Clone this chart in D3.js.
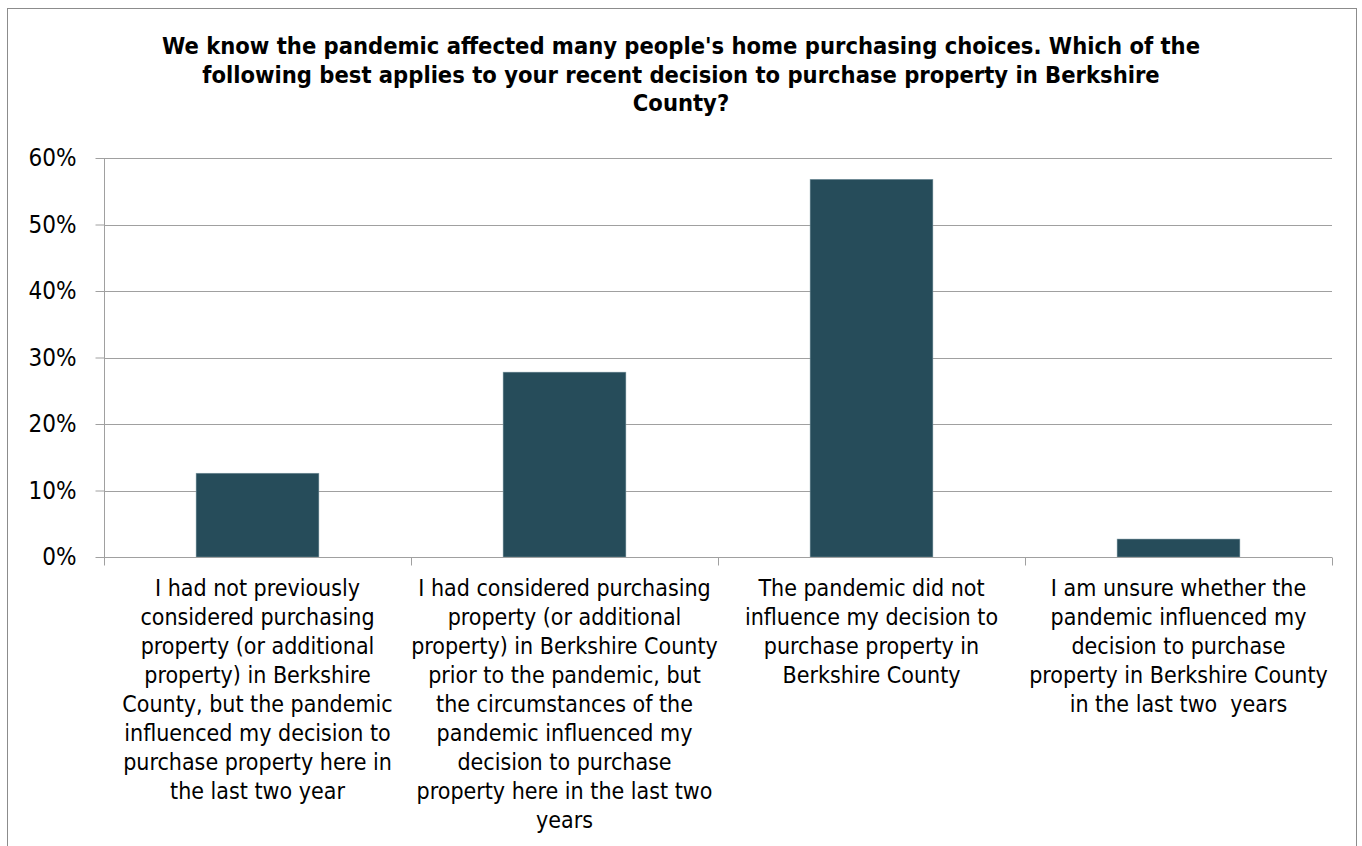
<!DOCTYPE html>
<html>
<head>
<meta charset="utf-8">
<script src="https://cdn.jsdelivr.net/npm/d3@7"></script>
<style>
  html, body { margin: 0; padding: 0; background: #fff; }
  svg { display: block; }
  text { font-family: "DejaVu Sans Condensed", "DejaVu Sans", sans-serif; fill: #000; }
</style>
</head>
<body>
<svg id="chart" width="1362" height="846"></svg>
<script>
// Survey responses (share of respondents, %)
const categories = [
  "I had not previously considered purchasing property (or additional property) in Berkshire County, but the pandemic influenced my decision to purchase property here in the last two year",
  "I had considered purchasing property (or additional property) in Berkshire County prior to the pandemic, but the circumstances of the pandemic influenced my decision to purchase property here in the last two years",
  "The pandemic did not influence my decision to purchase property in Berkshire County",
  "I am unsure whether the pandemic influenced my decision to purchase property in Berkshire County in the last two  years"
];
const categoryLines = [
  ["I had not previously", "considered purchasing", "property (or additional", "property) in Berkshire", "County, but the pandemic", "influenced my decision to", "purchase property here in", "the last two year"],
  ["I had considered purchasing", "property (or additional", "property) in Berkshire County", "prior to the pandemic, but", "the circumstances of the", "pandemic influenced my", "decision to purchase", "property here in the last two", "years"],
  ["The pandemic did not", "influence my decision to", "purchase property in", "Berkshire County"],
  ["I am unsure whether the", "pandemic influenced my", "decision to purchase", "property in Berkshire County", "in the last two\u00a0 years"]
];
const values = [12.6, 27.8, 56.8, 2.7];
const yTicks = [0, 10, 20, 30, 40, 50, 60];
const titleLines = [
  "We know the pandemic affected many people's home purchasing choices. Which of the",
  "following best applies to your recent decision to purchase property in Berkshire",
  "County?"
];

const svg = d3.select("#chart");
const plot = { left: 104, right: 1332, top: 158, bottom: 557 };

// chart frame
svg.append("rect")
  .attr("x", 7.5).attr("y", 8.5)
  .attr("width", 1349).attr("height", 860)
  .attr("fill", "#fff").attr("stroke", "#8c8c8c").attr("stroke-width", 1);

// title
const title = svg.append("text")
  .attr("text-anchor", "middle")
  .style("font-weight", "bold")
  .style("font-size", "23.5px");
title.selectAll("tspan").data(titleLines).join("tspan")
  .attr("x", 681)
  .attr("y", (d, i) => 54 + i * 28.5)
  .text(d => d);

const idx = d3.range(categories.length);
const x = d3.scaleBand().domain(idx).range([plot.left, plot.right])
  .paddingInner(0.6).paddingOuter(0.3);
const xEdge = d3.scaleLinear().domain([0, categories.length]).range([plot.left, plot.right]);
const y = d3.scaleLinear().domain([0, 60]).range([plot.bottom, plot.top]);

// horizontal gridlines
svg.append("g")
  .selectAll("line").data(yTicks.filter(t => t > 0)).join("line")
  .attr("x1", plot.left).attr("x2", plot.right)
  .attr("y1", d => Math.round(y(d)) + 0.5).attr("y2", d => Math.round(y(d)) + 0.5)
  .attr("stroke", "#a0a0a0").attr("stroke-width", 1);

// bars
svg.append("g")
  .selectAll("rect").data(values).join("rect")
  .attr("x", (d, i) => x(i))
  .attr("width", x.bandwidth())
  .attr("y", d => y(d))
  .attr("height", d => y(0) - y(d))
  .attr("fill", "#264c5a")
  .attr("stroke", "#7f9aa3").attr("stroke-width", 0.5);

// y axis
const yAxis = svg.append("g")
  .attr("transform", `translate(${plot.left + 0.5},0)`)
  .call(d3.axisLeft(y).tickValues(yTicks).tickSize(9).tickPadding(19)
    .tickFormat(d => d + "%"));
yAxis.select(".domain").attr("stroke", "#a0a0a0")
  .attr("d", `M0,${plot.top}V${plot.bottom + 8}`);
yAxis.selectAll(".tick line").attr("stroke", "#a0a0a0");
yAxis.selectAll(".tick text")
  .style("font-size", "24px")
  .style("font-family", "'DejaVu Sans Condensed', 'DejaVu Sans', sans-serif")
  .attr("fill", "#000");

// x axis with ticks between categories
const xAxis = svg.append("g")
  .attr("transform", `translate(0,${plot.bottom + 0.5})`)
  .call(d3.axisBottom(xEdge).tickValues(d3.range(categories.length + 1))
    .tickSize(8).tickFormat(""));
xAxis.select(".domain").attr("stroke", "#a0a0a0")
  .attr("d", `M${plot.left},0H${plot.right}`);
xAxis.selectAll(".tick line").attr("stroke", "#a0a0a0");

// category labels
const labels = svg.append("g").selectAll("text").data(categoryLines).join("text")
  .attr("text-anchor", "middle")
  .style("font-size", "23px");
labels.each(function(lines, i) {
  d3.select(this).selectAll("tspan").data(lines).join("tspan")
    .attr("x", x(i) + x.bandwidth() / 2)
    .attr("y", (d, j) => 596 + j * 29)
    .text(d => d);
});
</script>
</body>
</html>
